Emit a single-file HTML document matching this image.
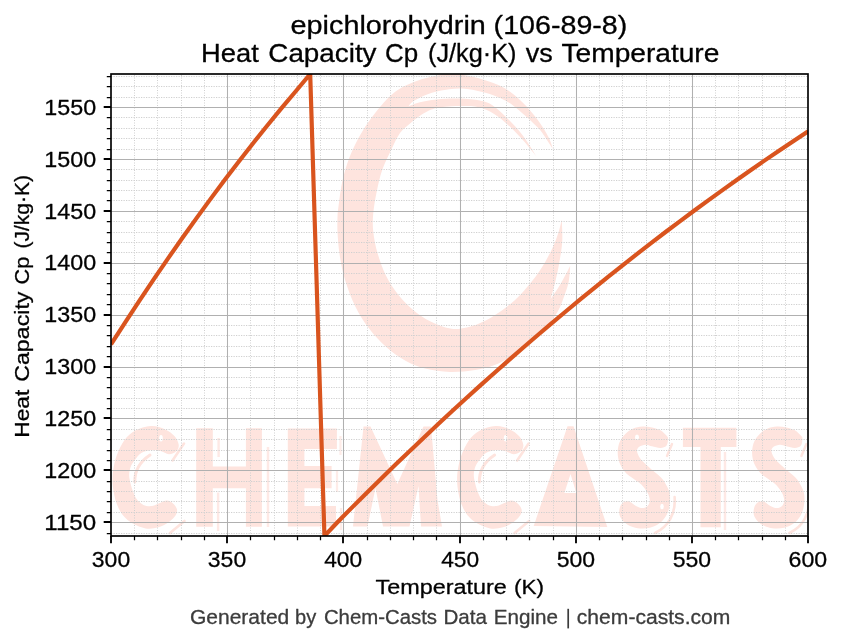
<!DOCTYPE html><html><head><meta charset="utf-8"><title>epichlorohydrin Cp</title>
<style>html,body{margin:0;padding:0;background:#fff}svg{display:block}text{font-family:"Liberation Sans",sans-serif}</style></head><body>
<svg width="843" height="644" viewBox="0 0 843 644">
<rect width="843" height="644" fill="#fff"/>
<defs><clipPath id="ax"><rect x="111.0" y="74.0" width="697.0" height="462.0"/></clipPath><filter id="bl" x="-5%" y="-5%" width="110%" height="110%"><feGaussianBlur stdDeviation="0.7"/></filter><filter id="bl0" x="-5%" y="-5%" width="110%" height="110%"><feGaussianBlur stdDeviation="0.6"/></filter></defs>
<g clip-path="url(#ax)"><g filter="url(#bl0)"><path d="M337.6 214C338.3 208.8 340 192.5 342 183C344 173.5 346.2 165.7 349.6 157C353 148.3 357.5 139.2 362.6 130.9C367.7 122.6 374.6 113.5 380 107C385.4 100.5 389.8 95.8 395.2 91.7C400.6 87.6 406.4 85 412.6 82.5C418.8 80 425.7 78.1 432.2 76.6C438.7 75.1 446.8 73.9 451.7 73.6C456.6 73.3 456.4 73.6 461.7 74.6C467 75.6 476.2 77.5 483.5 79.8C490.8 82.1 498.7 84.7 505.2 88.5C511.7 92.3 517.2 97.3 522.6 102.6C528 107.8 533.4 114.2 537.8 120C542.1 125.8 546.2 132.5 548.7 137.4C551.2 142.3 552.3 147.3 553 149.3C551.7 147.2 547.5 140.6 545 137C542.5 133.4 541.5 131.5 537.8 127.6C534.1 123.7 528 118 522.6 113.5C517.2 109 511.7 103.9 505.2 100.4C498.7 96.9 490.8 94.3 483.5 92.3C476.2 90.3 468.9 88.8 461.7 88.5C454.4 88.2 446.1 89.6 440 90.7C433.9 91.8 429.5 93.4 425 95.2C420.5 97 415.8 99.7 413 101.5C410.2 103.3 409.2 105.5 408.5 106.3C410.4 105.6 415.3 103.3 420 102.2C424.7 101.1 429.9 100 436.5 99.4C443.1 98.8 452.2 98.3 459.5 98.5C466.8 98.7 474.6 99.5 480 100.6C485.4 101.7 487.8 102.4 492 105C496.2 107.6 500.1 111.3 505.2 116.3C510.3 121.3 517.4 128.4 522.6 135.2C527.9 142 534.4 153.4 536.7 157C534.4 154.1 527.9 145.6 522.6 139.8C517.4 134 510.6 127.1 505.2 122.4C499.8 117.7 495 114.2 490 111.5C485 108.8 480.1 107.4 475 106.5C469.9 105.6 464.5 106 459.5 106C454.5 106 448.8 106.5 445 106.8C441.2 107.1 439.2 107.3 436.5 108C433.8 108.7 431.4 109.4 428.5 110.8C425.6 112.2 422.2 114.3 419 116.5C415.8 118.7 412.7 121.2 409.5 124C406.3 126.8 403.1 128.6 400 133C396.9 137.4 393.9 144.2 390.9 150.4C387.9 156.6 384.6 163.1 382.2 170C379.8 176.9 378.2 184.4 376.7 191.7C375.2 199 373.8 207.3 373.2 214C372.6 220.7 372.6 225.5 373.3 232C374 238.5 375.4 245.8 377.5 253.1C379.6 260.4 382.4 268.5 385.9 275.5C389.4 282.5 393.9 289.2 398.5 295C403.1 300.8 408.4 306 413.8 310.4C419.2 314.8 424.5 318.6 430.6 321.6C436.7 324.6 444.2 327.6 450.2 328.6C456.2 329.6 460.8 329 466.8 327.6C472.8 326.2 479.8 323.5 486.3 320.2C492.8 316.9 499.8 312.3 505.9 307.6C512 302.9 517.1 298.2 522.7 292.2C528.3 286.1 534.5 278.5 539.4 271.3C544.3 264.1 548.7 255.7 552 248.9C555.3 242.1 557.4 235.6 559 230.7C560.6 225.8 561.3 221.4 561.8 219.6C561.9 223.3 562.7 234.4 562.2 241.9C561.7 249.4 560.2 257.3 559 264.3C557.8 271.3 556.2 278 554.8 283.8C553.4 289.6 551.3 296.6 550.6 299.2C552 297.1 556.4 290.8 559 286.6C561.6 282.4 564.1 277.5 566 274C567.9 270.5 569.5 267.1 570.2 265.7C570 268.2 569.7 276.1 568.8 281C567.9 285.9 566.5 289.9 564.6 295C562.7 300.1 560.9 306.2 557.6 311.8C554.3 317.4 549.4 323.5 545 328.6C540.6 333.7 536.1 338.1 531 342.5C525.9 346.9 520.3 351.4 514.3 355.1C508.2 358.8 501.2 362.4 494.7 364.9C488.2 367.4 482.6 368.7 475.2 369.9C467.8 371.1 458.4 372.1 450 371.9C441.6 371.7 432.4 370.4 425 368.5C417.6 366.6 412 364.3 405.5 360.7C399 357.1 392 352 385.9 346.7C379.8 341.4 374.2 335.4 369.1 328.6C364 321.9 359.1 314.1 355.2 306.2C351.2 298.3 348 289.4 345.4 281C342.8 272.6 341.1 264.1 339.8 255.9C338.5 247.7 337.9 239 337.5 232C337.1 225 337.6 217 337.6 214Z" fill="#fee4de"/></g><g filter="url(#bl)"><path d="M178.7 444.7C178.3 442.2 176.7 438.7 174.4 436.1C172.1 433.5 168.7 430.9 164.8 429.2C160.9 427.5 155.9 425.7 150.9 426C145.9 426.3 139.3 428.4 134.9 430.8C130.5 433.2 127.2 436.3 124.2 440.4C121.2 444.5 118.5 450.5 116.7 455.4C114.9 460.3 113.9 465.9 113.2 470C112.5 474.1 112.5 476.5 112.5 480C112.5 483.5 112.8 487 113.5 491C114.2 495 115.1 499.7 116.7 503.8C118.3 507.9 120.4 512.3 123.1 515.6C125.8 518.9 129.1 521.5 132.8 523.6C136.6 525.7 141.3 527.8 145.6 528.4C149.9 529 154.5 528.4 158.4 527.3C162.3 526.2 166.2 524 169 522C171.8 520 174.2 517.7 175.5 515.6C176.8 513.5 177.4 511.5 177 509.5C176.6 507.5 175 505.3 173.3 503.8C171.6 502.3 169 500.8 166.9 500.6C164.8 500.4 163 501.9 160.5 502.8C158 503.7 154.8 505.6 152 506C149.2 506.4 145.9 506 143.4 504.9C140.9 503.8 138.8 501.9 137 499.6C135.2 497.3 134 494 132.8 491C131.7 488 130.7 484.2 130.1 481.4C129.5 478.6 129 476.6 129.2 474C129.3 471.4 130.1 468.3 131 466C131.9 463.7 133.2 462.2 134.9 460C136.6 457.8 138.5 454.7 141.3 453C144.2 451.3 148.8 450.3 152 450C155.2 449.7 157.7 450.4 160.5 451.1C163.3 451.8 166.3 454.3 169 454.3C171.7 454.3 174.9 452.6 176.5 451C178.1 449.4 179 447.2 178.7 444.7Z" fill="#fee4de"/><ellipse cx="161" cy="438.3" rx="1.8" ry="3.2" fill="#fff"/><path d="M184 443.6L172.5 460.5" stroke="#fee4de" stroke-width="2.6" fill="none" stroke-linecap="round"/><path d="M184.5 521L170 533" stroke="#fee4de" stroke-width="2.6" fill="none" stroke-linecap="round"/><path d="M150 455C141 461 134.5 470 134.8 482" stroke="#fee4de" stroke-width="3" fill="none" stroke-linecap="round"/><path d="M196.2 428.3L212.8 428.3L212.8 466.4L245.9 466.4L245.9 428.3L261.9 428.3L261.9 526.8L245.9 526.8L245.9 488.3L212.8 488.3L212.8 526.8L196.2 526.8Z" fill="#fee4de"/><path d="M218.1 492.6V531M218.6 438V457M268 447V527" stroke="#fee4de" stroke-width="2.4" fill="none" opacity="0.8"/><path d="M287.8 428.5L336.9 428.5L336.9 449L304.4 449L304.4 466L331.6 466L331.6 488.3L304.4 488.3L304.4 506L336 506L336 526.5L287.8 526.5Z" fill="#fee4de"/><path d="M340.5 436V455M337 470V492M341 508V530" stroke="#fee4de" stroke-width="2.2" fill="none" opacity="0.7"/><path d="M353 526.5L363.5 426.5L370.5 426.5L397.3 484L423.5 426.5L431 426.5L437.5 500L442 526.5L421 526.5L418.5 486L409.5 526.5L383 526.5L375.5 488L367.5 526.5Z" fill="#fee4de"/><path d="M523.3 444.7C522.9 442.2 521.3 438.7 519 436.1C516.7 433.5 513.3 430.9 509.4 429.2C505.5 427.5 500.5 425.7 495.5 426C490.5 426.3 483.9 428.4 479.5 430.8C475.1 433.2 471.8 436.3 468.8 440.4C465.8 444.5 463.1 450.5 461.3 455.4C459.5 460.3 458.5 465.9 457.8 470C457.1 474.1 457.1 476.5 457.1 480C457.2 483.5 457.4 487 458.1 491C458.8 495 459.7 499.7 461.3 503.8C462.9 507.9 465 512.3 467.7 515.6C470.4 518.9 473.7 521.5 477.4 523.6C481.2 525.7 485.9 527.8 490.2 528.4C494.5 529 499.1 528.4 503 527.3C506.9 526.2 510.8 524 513.6 522C516.5 520 518.8 517.7 520.1 515.6C521.4 513.5 522 511.5 521.6 509.5C521.2 507.5 519.6 505.3 517.9 503.8C516.2 502.3 513.6 500.8 511.5 500.6C509.4 500.4 507.6 501.9 505.1 502.8C502.6 503.7 499.5 505.6 496.6 506C493.8 506.4 490.5 506 488 504.9C485.5 503.8 483.4 501.9 481.6 499.6C479.8 497.3 478.6 494 477.4 491C476.3 488 475.3 484.2 474.7 481.4C474.1 478.6 473.7 476.6 473.8 474C473.9 471.4 474.7 468.3 475.6 466C476.6 463.7 477.8 462.2 479.5 460C481.2 457.8 483.1 454.7 485.9 453C488.8 451.3 493.4 450.3 496.6 450C499.8 449.7 502.3 450.4 505.1 451.1C507.9 451.8 510.9 454.3 513.6 454.3C516.3 454.3 519.5 452.6 521.1 451C522.7 449.4 523.6 447.2 523.3 444.7Z" fill="#fee4de"/><ellipse cx="505.6" cy="438.3" rx="1.8" ry="3.2" fill="#fff"/><path d="M528.6 443.6L517.1 460.5" stroke="#fee4de" stroke-width="2.6" fill="none" stroke-linecap="round"/><path d="M529.1 521L514.6 533" stroke="#fee4de" stroke-width="2.6" fill="none" stroke-linecap="round"/><path d="M494.6 455C485.6 461 479.1 470 479.4 482" stroke="#fee4de" stroke-width="3" fill="none" stroke-linecap="round"/><path d="M567.5 426.3L573.5 426.3L607.3 527L533.7 526Z" fill="#fee4de"/><path d="M570.5 474L576.3 493L564.4 493Z" fill="#fff"/><path d="M668 439.4C668.1 437.8 668.1 437.6 666.9 436.1C665.6 434.6 663 431.8 660.5 430.3C658 428.9 655 428 652 427.4C649 426.8 645.6 426.3 642.4 426.5C639.2 426.7 635.6 427.4 632.8 428.7C629.9 429.9 627.4 431.9 625.3 434C623.1 436.1 621.1 438.8 619.9 441.5C618.6 444.2 618.1 447.1 617.8 450C617.5 452.9 617.8 455.9 618.3 458.6C618.8 461.3 619.6 463.5 621 466C622.4 468.5 624.4 471.5 626.4 473.5C628.4 475.5 630.3 476.3 632.8 478.2C635.3 480.1 638.8 482.1 641.3 484.6C643.8 487.1 646.3 490.4 647.7 493.1C649.1 495.8 649.8 498.5 649.8 500.6C649.8 502.8 648.9 504.8 647.7 506C646.5 507.2 644.4 508.1 642.4 508.1C640.4 508.1 638.1 507.1 636 506C633.9 504.9 631.6 502.3 629.6 501.7C627.6 501.1 625.3 501.3 623.7 502.2C622.1 503.1 620.7 504.9 620 507C619.3 509.1 618.9 512.2 619.4 514.5C619.9 516.8 621.2 518.9 623.1 520.9C625 522.9 627.8 525 630.6 526.2C633.5 527.5 637 528.1 640.2 528.4C643.4 528.7 646.8 528.5 649.8 527.8C652.8 527.1 655.9 525.8 658.4 524.1C660.9 522.4 663.1 520 664.8 517.7C666.5 515.4 667.6 513.2 668.5 510.2C669.4 507.2 670 502.8 670.1 499.6C670.2 496.4 669.9 493.9 669 491C668.1 488.1 666.1 484.8 664.8 482.5C663.5 480.2 662.6 479.2 661 477.5C659.4 475.8 657.4 474.4 655.2 472.5C653 470.6 650.2 468.3 647.7 466C645.2 463.7 642 461.1 640.2 458.6C638.4 456.1 637.2 453.1 637 451.1C636.8 449.1 637.8 447.9 639.2 446.8C640.6 445.7 643.5 444.8 645.6 444.7C647.7 444.6 649.5 445.8 652 446.3C654.5 446.8 658.1 448 660.5 447.9C662.9 447.8 665.1 447.2 666.4 445.8C667.6 444.4 667.9 441 668 439.4Z" fill="#fee4de"/><ellipse cx="637" cy="437.2" rx="2" ry="2.6" fill="#fff"/><ellipse cx="662" cy="506.5" rx="1.8" ry="2.8" fill="#fff"/><ellipse cx="640.5" cy="452.5" rx="2.6" ry="2" fill="#fff"/><path d="M674.6 497C676 514 668 527 655 533" stroke="#fee4de" stroke-width="2.6" fill="none" stroke-linecap="round"/><path d="M672 444L667 456" stroke="#fee4de" stroke-width="2.4" fill="none" stroke-linecap="round"/><path d="M682.9 427.8L736.4 427.8L736.4 446.9L720.8 446.9L720.8 527.2L700.5 527.2L700.5 446.9L682.9 446.9Z" fill="#fee4de"/><path d="M725 452V530" stroke="#fee4de" stroke-width="2.4" fill="none" opacity="0.8"/><path d="M802.4 439.4C802.5 437.8 802.5 437.6 801.3 436.1C800 434.6 797.4 431.8 794.9 430.3C792.4 428.9 789.4 428 786.4 427.4C783.4 426.8 780 426.3 776.8 426.5C773.6 426.7 770 427.4 767.2 428.7C764.3 429.9 761.8 431.9 759.7 434C757.5 436.1 755.5 438.8 754.3 441.5C753 444.2 752.5 447.1 752.2 450C751.9 452.9 752.2 455.9 752.7 458.6C753.2 461.3 754 463.5 755.4 466C756.8 468.5 758.8 471.5 760.8 473.5C762.8 475.5 764.7 476.3 767.2 478.2C769.7 480.1 773.2 482.1 775.7 484.6C778.2 487.1 780.7 490.4 782.1 493.1C783.5 495.8 784.2 498.5 784.2 500.6C784.2 502.8 783.3 504.8 782.1 506C780.9 507.2 778.8 508.1 776.8 508.1C774.8 508.1 772.5 507.1 770.4 506C768.3 504.9 766 502.3 764 501.7C762 501.1 759.7 501.3 758.1 502.2C756.5 503.1 755.1 504.9 754.4 507C753.7 509.1 753.3 512.2 753.8 514.5C754.3 516.8 755.6 518.9 757.5 520.9C759.4 522.9 762.1 525 765 526.2C767.9 527.5 771.4 528.1 774.6 528.4C777.8 528.7 781.2 528.5 784.2 527.8C787.2 527.1 790.3 525.8 792.8 524.1C795.3 522.4 797.5 520 799.2 517.7C800.9 515.4 802 513.2 802.9 510.2C803.8 507.2 804.4 502.8 804.5 499.6C804.6 496.4 804.3 493.9 803.4 491C802.5 488.1 800.5 484.8 799.2 482.5C797.9 480.2 797 479.2 795.4 477.5C793.8 475.8 791.8 474.4 789.6 472.5C787.4 470.6 784.6 468.3 782.1 466C779.6 463.7 776.4 461.1 774.6 458.6C772.8 456.1 771.6 453.1 771.4 451.1C771.2 449.1 772.2 447.9 773.6 446.8C775 445.7 777.9 444.8 780 444.7C782.1 444.6 783.9 445.8 786.4 446.3C788.9 446.8 792.5 448 794.9 447.9C797.3 447.8 799.5 447.2 800.8 445.8C802 444.4 802.3 441 802.4 439.4Z" fill="#fee4de"/><ellipse cx="774.9" cy="452.5" rx="2.6" ry="2" fill="#fff"/><path d="M809 497C810.4 514 802.4 527 789.4 533" stroke="#fee4de" stroke-width="2.6" fill="none" stroke-linecap="round"/><path d="M806.4 444L801.4 456" stroke="#fee4de" stroke-width="2.4" fill="none" stroke-linecap="round"/></g></g>
<path d="M111 533.5H808M111 512.5H808M111 501.5H808M111 491.5H808M111 481.5H808M111 460.5H808M111 450.5H808M111 439.5H808M111 429.5H808M111 408.5H808M111 398.5H808M111 387.5H808M111 377.5H808M111 356.5H808M111 346.5H808M111 335.5H808M111 325.5H808M111 304.5H808M111 294.5H808M111 283.5H808M111 273.5H808M111 252.5H808M111 242.5H808M111 232.5H808M111 221.5H808M111 200.5H808M111 190.5H808M111 180.5H808M111 169.5H808M111 149.5H808M111 138.5H808M111 128.5H808M111 117.5H808M111 97.5H808M111 86.5H808M111 76.5H808" stroke="#d0d0d0" stroke-width="1" stroke-dasharray="1.25 1.25" fill="none" clip-path="url(#ax)"/>
<path d="M134.5 536V74M157.5 536V74M181.5 536V74M204.5 536V74M250.5 536V74M274.5 536V74M297.5 536V74M320.5 536V74M367.5 536V74M390.5 536V74M413.5 536V74M436.5 536V74M483.5 536V74M506.5 536V74M529.5 536V74M553.5 536V74M599.5 536V74M622.5 536V74M646.5 536V74M669.5 536V74M715.5 536V74M738.5 536V74M762.5 536V74M785.5 536V74" stroke="#d0d0d0" stroke-width="1" stroke-dasharray="1 1.5" fill="none" clip-path="url(#ax)"/>
<path d="M227.5 74V536M343.5 74V536M460.5 74V536M576.5 74V536M692.5 74V536M111 522.5H808M111 470.5H808M111 418.5H808M111 367.5H808M111 315.5H808M111 263.5H808M111 211.5H808M111 159.5H808M111 107.5H808" stroke="#b0b0b0" stroke-width="1.04" fill="none"/>
<path d="M111 344.33 L125.23 322.26 L139.46 300.62 L153.69 279.41 L167.91 258.63 L182.14 238.28 L196.37 218.36 L210.6 198.87 L224.83 179.81 L239.06 161.19 L253.29 142.99 L267.51 125.23 L281.74 107.9 L295.97 90.99 L310.2 74 L324.43 536 L338.66 520.97 L352.89 506.63 L367.11 492.45 L381.34 478.44 L395.57 464.59 L409.8 450.91 L424.03 437.39 L438.26 424.03 L452.49 410.83 L466.71 397.8 L480.94 384.92 L495.17 372.21 L509.4 359.65 L523.63 347.25 L537.86 335.01 L552.09 322.92 L566.31 310.99 L580.54 299.22 L594.77 287.6 L609 276.13 L623.23 264.82 L637.46 253.65 L651.69 242.64 L665.91 231.78 L680.14 221.07 L694.37 210.51 L708.6 200.09 L722.83 189.83 L737.06 179.71 L751.29 169.73 L765.51 159.9 L779.74 150.22 L793.97 140.68 L808.2 131.28" stroke="#d9541e" stroke-width="4.17" fill="none" stroke-linejoin="round" stroke-linecap="butt" clip-path="url(#ax)"/>
<path d="M111 536v7.3M227 536v7.3M343 536v7.3M460 536v7.3M576 536v7.3M692 536v7.3M808 536v7.3M111 522h-7.3M111 470h-7.3M111 418h-7.3M111 367h-7.3M111 315h-7.3M111 263h-7.3M111 211h-7.3M111 159h-7.3M111 107h-7.3" stroke="#000" stroke-width="1.85" fill="none"/>
<path d="M134.5 536v4.2M157.5 536v4.2M181.5 536v4.2M204.5 536v4.2M250.5 536v4.2M274.5 536v4.2M297.5 536v4.2M320.5 536v4.2M367.5 536v4.2M390.5 536v4.2M413.5 536v4.2M436.5 536v4.2M483.5 536v4.2M506.5 536v4.2M529.5 536v4.2M553.5 536v4.2M599.5 536v4.2M622.5 536v4.2M646.5 536v4.2M669.5 536v4.2M715.5 536v4.2M738.5 536v4.2M762.5 536v4.2M785.5 536v4.2M111 533.5h-4.2M111 512.5h-4.2M111 501.5h-4.2M111 491.5h-4.2M111 481.5h-4.2M111 460.5h-4.2M111 450.5h-4.2M111 439.5h-4.2M111 429.5h-4.2M111 408.5h-4.2M111 398.5h-4.2M111 387.5h-4.2M111 377.5h-4.2M111 356.5h-4.2M111 346.5h-4.2M111 335.5h-4.2M111 325.5h-4.2M111 304.5h-4.2M111 294.5h-4.2M111 283.5h-4.2M111 273.5h-4.2M111 252.5h-4.2M111 242.5h-4.2M111 232.5h-4.2M111 221.5h-4.2M111 200.5h-4.2M111 190.5h-4.2M111 180.5h-4.2M111 169.5h-4.2M111 149.5h-4.2M111 138.5h-4.2M111 128.5h-4.2M111 117.5h-4.2M111 97.5h-4.2M111 86.5h-4.2M111 76.5h-4.2" stroke="#000" stroke-width="1.25" fill="none"/>
<rect x="111.0" y="74.0" width="697.0" height="462" fill="none" stroke="#000" stroke-width="1.67"/>
<g opacity="0.999" stroke-width="0.3" stroke-linejoin="round">
<text transform="translate(290.58,33.8) scale(1.1426,1)" font-size="25.2" fill="#000" stroke="#000">epichlorohydrin</text>
<text transform="translate(493.61,33.8) scale(1.1368,1)" font-size="25.2" fill="#000" stroke="#000">(106-89-8)</text>
<text transform="translate(201.04,61.9) scale(1.0850,1)" font-size="25.2" fill="#000" stroke="#000">Heat</text>
<text transform="translate(268.31,61.9) scale(1.1044,1)" font-size="25.2" fill="#000" stroke="#000">Capacity</text>
<text transform="translate(385.10,61.9) scale(1.0292,1)" font-size="25.2" fill="#000" stroke="#000">Cp</text>
<text transform="translate(428.02,61.9) scale(1.0034,1)" font-size="25.2" fill="#000" stroke="#000">(J/kg·K)</text>
<text transform="translate(525.63,61.9) scale(1.0719,1)" font-size="25.2" fill="#000" stroke="#000">vs</text>
<text transform="translate(561.57,61.9) scale(1.1159,1)" font-size="25.2" fill="#000" stroke="#000">Temperature</text>
<text transform="translate(91.84,567.1) scale(1.0494,1)" font-size="21.9" fill="#000" stroke="#000">300</text>
<text transform="translate(207.84,567.1) scale(1.0494,1)" font-size="21.9" fill="#000" stroke="#000">350</text>
<text transform="translate(324.19,567.1) scale(1.0396,1)" font-size="21.9" fill="#000" stroke="#000">400</text>
<text transform="translate(441.19,567.1) scale(1.0396,1)" font-size="21.9" fill="#000" stroke="#000">450</text>
<text transform="translate(556.78,567.1) scale(1.0511,1)" font-size="21.9" fill="#000" stroke="#000">500</text>
<text transform="translate(672.78,567.1) scale(1.0511,1)" font-size="21.9" fill="#000" stroke="#000">550</text>
<text transform="translate(788.54,567.1) scale(1.0577,1)" font-size="21.9" fill="#000" stroke="#000">600</text>
<text transform="translate(44.29,529.95) scale(1.1026,1)" font-size="21.9" fill="#000" stroke="#000">1150</text>
<text transform="translate(44.35,478.05) scale(1.0647,1)" font-size="21.9" fill="#000" stroke="#000">1200</text>
<text transform="translate(44.35,426.15) scale(1.0647,1)" font-size="21.9" fill="#000" stroke="#000">1250</text>
<text transform="translate(44.35,374.25) scale(1.0647,1)" font-size="21.9" fill="#000" stroke="#000">1300</text>
<text transform="translate(44.35,322.35) scale(1.0647,1)" font-size="21.9" fill="#000" stroke="#000">1350</text>
<text transform="translate(44.35,270.45) scale(1.0647,1)" font-size="21.9" fill="#000" stroke="#000">1400</text>
<text transform="translate(44.35,218.55) scale(1.0647,1)" font-size="21.9" fill="#000" stroke="#000">1450</text>
<text transform="translate(44.35,166.65) scale(1.0647,1)" font-size="21.9" fill="#000" stroke="#000">1500</text>
<text transform="translate(44.35,114.75) scale(1.0647,1)" font-size="21.9" fill="#000" stroke="#000">1550</text>
<text transform="translate(375.57,594.3) scale(1.1142,1)" font-size="21.0" fill="#000" stroke="#000">Temperature</text>
<text transform="translate(513.99,594.3) scale(1.0744,1)" font-size="21.0" fill="#000" stroke="#000">(K)</text>
<text transform="translate(189.95,624.4) scale(1.0729,1)" font-size="19.6" fill="#3c3c3c" stroke="#3c3c3c">Generated</text>
<text transform="translate(295.00,624.4) scale(1.0230,1)" font-size="19.6" fill="#3c3c3c" stroke="#3c3c3c">by</text>
<text transform="translate(323.88,624.4) scale(1.0395,1)" font-size="19.6" fill="#3c3c3c" stroke="#3c3c3c">Chem-Casts</text>
<text transform="translate(443.50,624.4) scale(1.0506,1)" font-size="19.6" fill="#3c3c3c" stroke="#3c3c3c">Data</text>
<text transform="translate(493.70,624.4) scale(1.0537,1)" font-size="19.6" fill="#3c3c3c" stroke="#3c3c3c">Engine</text>
<text transform="translate(576.80,624.4) scale(1.0762,1)" font-size="19.6" fill="#3c3c3c" stroke="#3c3c3c">chem-casts.com</text>
<text transform="translate(29.4,437.78) rotate(-90) scale(1.0854,1)" font-size="21.0" fill="#000" stroke="#000">Heat</text>
<text transform="translate(29.4,381.76) rotate(-90) scale(1.1044,1)" font-size="21.0" fill="#000" stroke="#000">Capacity</text>
<text transform="translate(29.4,284.38) rotate(-90) scale(1.0306,1)" font-size="21.0" fill="#000" stroke="#000">Cp</text>
<text transform="translate(29.4,248.61) rotate(-90) scale(1.0010,1)" font-size="21.0" fill="#000" stroke="#000">(J/kg·K)</text>
<rect x="567.35" y="608.8" width="1.7" height="19.6" fill="#3c3c3c"/>
</g>
</svg></body></html>
